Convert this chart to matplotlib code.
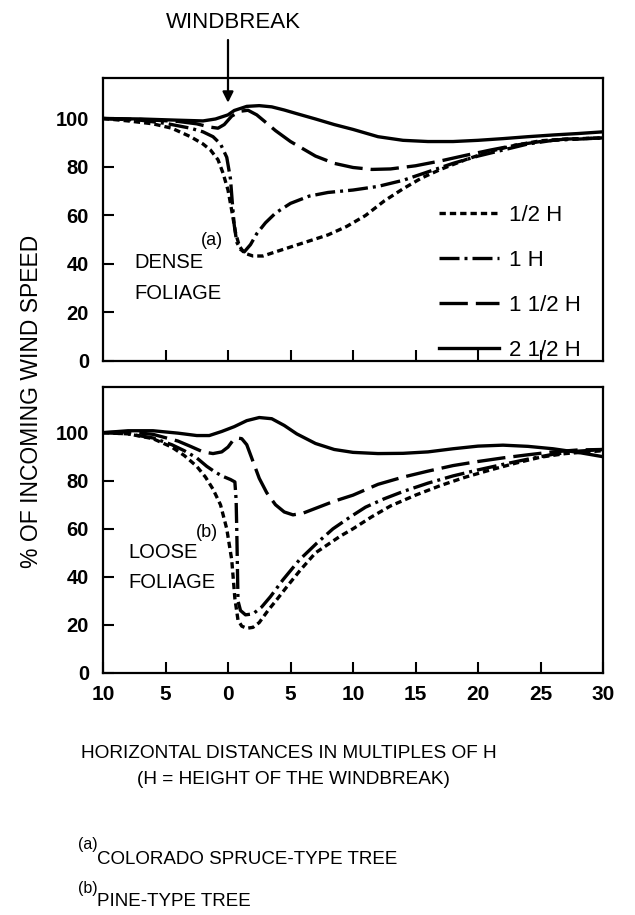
import matplotlib
matplotlib.use("Agg")
import matplotlib.pyplot as plt
from matplotlib.lines import Line2D

plt.rcParams['font.family'] = ['DejaVu Sans Condensed', 'Liberation Sans Narrow', 'Liberation Sans', 'DejaVu Sans']

# --- donnees (x en multiples de H, y en % de la vitesse du vent) ---

# DENSE FOLIAGE (haut)
dense_x_05 = [-10, -8, -6, -4.5, -3, -2, -1.4, -0.8, -0.4, 0, 0.3, 0.6, 0.9, 1.3, 2, 2.8, 3.8, 5,
              6.5, 8, 9.5, 11, 12.5, 14, 15.5, 17, 19, 21, 23, 25, 27, 30]
dense_y_05 = [100, 99, 97.8, 96, 92.5, 89.5, 87, 83, 77.5, 70.5, 62, 53, 47.5, 44.5, 43.3, 43.3, 45, 47,
              49.5, 52, 55.5, 60, 66, 71, 75.5, 79, 83, 86.5, 89, 90.8, 91.5, 92]

dense_x_1 = [-10, -7, -5, -3, -2, -1.2, -0.6, -0.1, 0.2, 0.35, 0.5, 0.7, 1.0, 1.3, 1.8, 2.3, 3, 3.8, 5,
             6.5, 8, 10, 12, 14, 16, 18, 20, 22, 24, 26, 28, 30]
dense_y_1 = [100, 99.3, 98, 96, 94.5, 92.5, 89.5, 84, 75, 65, 56, 49, 46, 45, 48, 52.5, 57, 61, 65,
             68, 69.5, 70.5, 72, 74.5, 78, 81.5, 84.5, 87, 89.5, 91, 91.5, 92]

dense_x_15 = [-10, -7, -4, -2.5, -1.5, -0.8, -0.3, 0.3, 1, 1.6, 2.3, 3, 3.8, 5, 6, 7, 8.5, 10, 11.5,
              13, 15, 17, 19, 21, 23, 25, 27, 30]
dense_y_15 = [100, 99.6, 98.8, 97.8, 96.5, 96, 97.5, 101, 103, 103.4, 101.5, 98.5, 95, 90.5, 87.5,
              84.5, 81.5, 79.8, 79, 79.2, 80.5, 82.5, 84.8, 87, 89, 90.5, 91.5, 92]

dense_x_25 = [-10, -7, -4, -2, -1, 0, 0.5, 1.5, 2.5, 3.5, 4.5, 5.5, 7, 8.5, 10, 12, 14, 16, 18, 20,
              22, 24, 26, 28, 30]
dense_y_25 = [100, 99.8, 99.3, 99, 99.8, 101.5, 103.3, 105, 105.3, 104.8, 103.5, 102, 99.8, 97.5,
              95.5, 92.5, 91, 90.5, 90.5, 91, 91.7, 92.5, 93.2, 93.8, 94.5]

# LOOSE FOLIAGE (bas)
loose_x_05 = [-10, -8, -6, -4.5, -3.5, -2.5, -1.8, -1.2, -0.6, -0.1, 0.3, 0.55, 0.8, 1.1, 1.5, 2, 2.5,
              3.2, 3.9, 4.8, 5.8, 7, 8, 9, 10, 11.5, 13, 15, 17, 19, 21, 23, 25, 27, 30]
loose_y_05 = [100, 99.5, 97.5, 94, 90.5, 86, 81.5, 76.5, 70, 60, 47, 31, 22, 19.5, 18.6, 19, 21,
              26, 30.5, 36.5, 42.9, 50, 53.5, 57, 60, 65, 69.5, 74, 78, 81.5, 84.5, 87.3, 89.8, 91.3, 92.5]

loose_x_1 = [-10, -8, -6, -4.5, -3.5, -2.5, -1.7, -1, -0.4, 0.2, 0.55, 0.65, 0.7, 0.75, 0.8, 1.0, 1.4,
             2, 2.7, 3.4, 4.4, 5.7, 7.1, 8.4, 9.8, 11, 12.5, 14, 16, 18, 20, 22, 24, 26, 28, 30]
loose_y_1 = [100, 99.5, 97.8, 95, 92.5, 89.5, 86, 83.5, 81.8, 80.5, 79.5, 72, 60, 45, 30, 26, 24.2,
             24.6, 27.5, 31.8, 38.8, 47, 54, 60, 65, 69, 72.5, 75.5, 79, 82, 84.5, 86.8, 89, 91, 92.3, 93]

loose_x_15 = [-10, -8, -6, -4, -3, -2, -1.2, -0.5, 0, 0.4, 0.7, 1.1, 1.5, 2, 2.5, 3.1, 3.8, 4.5, 5.2,
              6, 7, 8.5, 10, 12, 14, 16, 18, 20, 22, 24, 26, 28, 30]
loose_y_15 = [100, 100.3, 99.3, 96.5, 94.3, 92, 91.3, 92, 94, 96.8, 97.8, 97.5, 95, 88, 81, 75, 70,
              67, 65.8, 66.5, 68.5, 71.5, 74, 78.5, 81.5, 84, 86.3, 88, 89.5, 90.8, 92, 92.8, 93]

loose_x_25 = [-10, -8, -6, -4, -2.5, -1.5, -0.5, 0.5, 1.5, 2.5, 3.5, 4.5, 5.5, 7, 8.5, 10, 12, 14, 16,
              18, 20, 22, 24, 26, 28, 30]
loose_y_25 = [100, 100.8, 100.8, 99.8, 98.8, 98.8, 100.5, 102.5, 105, 106.3, 105.8, 103, 99.5, 95.5,
              93, 91.8, 91.3, 91.4, 92, 93.3, 94.4, 94.8, 94.3, 93.3, 91.8, 90]

legende = ['1/2 H', '1 H', '1 1/2 H', '2 1/2 H']
x_ticks = [-10, -5, 0, 5, 10, 15, 20, 25, 30]
x_ticklabels = ['10', '5', '0', '5', '10', '15', '20', '25', '30']
y_ticks = [0, 20, 40, 60, 80, 100]

# styles des traits
LW = 2.4
styles = [dict(dashes=(1.9, 1.2)),
          dict(dashes=(6.0, 1.5, 0.9, 1.5)),
          dict(dashes=(8.5, 2.4)),
          dict(linestyle='-')]

fig = plt.figure(figsize=(6.35, 9.15), dpi=100)
ax1 = fig.add_axes([103/635, 1-361/915, 500/635, 283/915])
ax2 = fig.add_axes([103/635, 1-673/915, 500/635, 286/915])


def trace_panneau(ax, series, ymax):
    for (x, y), st in zip(series, styles):
        ax.plot(x, y, color='black', lw=LW, dash_capstyle='butt', **st)
    ax.set_xlim(-10, 30)
    ax.set_ylim(0, ymax)
    ax.set_xticks(x_ticks[1:-1])
    ax.set_yticks(y_ticks)
    ax.tick_params(direction='in', length=8, width=1.5, top=False, right=False,
                   labelsize=14.5, pad=8)
    ax.tick_params(axis='y', pad=10)
    for s in ax.spines.values():
        s.set_linewidth(1.6)
    for lab in ax.get_yticklabels():
        lab.set_fontweight('bold')


trace_panneau(ax1, [(dense_x_05, dense_y_05), (dense_x_1, dense_y_1),
                    (dense_x_15, dense_y_15), (dense_x_25, dense_y_25)], 116.7)
trace_panneau(ax2, [(loose_x_05, loose_y_05), (loose_x_1, loose_y_1),
                    (loose_x_15, loose_y_15), (loose_x_25, loose_y_25)], 119)

ax1.set_xticklabels([])
ax2.set_xticks(x_ticks)
ax2.set_xticklabels(x_ticklabels, fontweight='bold', fontsize=15)
ax2.tick_params(axis='x', length=8, pad=9)

# legende
handles = [Line2D([], [], color='black', lw=LW, dash_capstyle='butt', **st) for st in styles]
ax1.legend(handles, legende, loc='upper left', bbox_to_anchor=(0.672, 0.553), frameon=False,
           fontsize=16, handlelength=2.7, handletextpad=0.45, labelspacing=1.09,
           borderpad=0, borderaxespad=0)

# annotations dans les panneaux
ax1.text(-7.5, 40.8, 'DENSE', fontsize=14.5, va='center')
ax1.text(-2.2, 49.5, '(a)', fontsize=13, va='center')
ax1.text(-7.5, 28, 'FOLIAGE', fontsize=14.5, va='center')
ax2.text(-8.0, 50, 'LOOSE', fontsize=14.5, va='center')
ax2.text(-2.6, 58.5, '(b)', fontsize=13, va='center')
ax2.text(-8.0, 37.5, 'FOLIAGE', fontsize=14.5, va='center')

# fleche brise-vent
ax1.annotate('', xy=(0, 106.5), xytext=(0, 915-40), textcoords=('data', 'figure pixels'),
             arrowprops=dict(arrowstyle='-|>', color='black', lw=1.6, mutation_scale=16,
                             shrinkA=0, shrinkB=0), annotation_clip=False)
fig.text(233/635, 1-23/915, 'WINDBREAK', fontsize=16, ha='center', va='center')

# titres des axes
fig.text(32/635, 1-401/915, '% OF INCOMING WIND SPEED', rotation=90, fontsize=16.5,
         ha='center', va='center')
fig.text(289/635, 1-753/915, 'HORIZONTAL DISTANCES IN MULTIPLES OF H', fontsize=13.7,
         ha='center', va='center')
fig.text(293/635, 1-780/915, '(H = HEIGHT OF THE WINDBREAK)', fontsize=13.7,
         ha='center', va='center')

# notes
fig.text(78/635, 1-845/915, '(a)', fontsize=11.5, ha='left', va='center')
fig.text(97/635, 1-859/915, 'COLORADO SPRUCE-TYPE TREE', fontsize=13.5, ha='left', va='center')
fig.text(78/635, 1-888/915, '(b)', fontsize=11.5, ha='left', va='center')
fig.text(97/635, 1-902/915, 'PINE-TYPE TREE', fontsize=13.5, ha='left', va='center')

fig.savefig('out.png', dpi=100)
